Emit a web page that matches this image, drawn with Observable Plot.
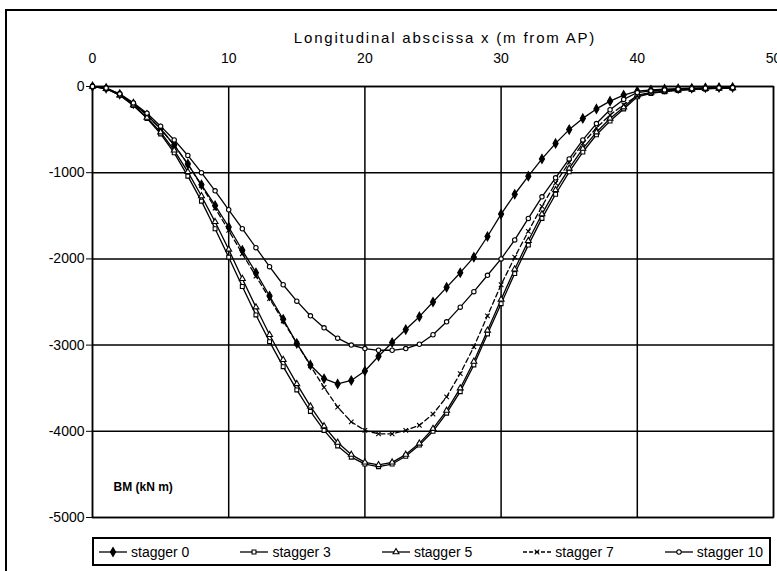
<!DOCTYPE html>
<html><head><meta charset="utf-8">
<script src="https://cdn.jsdelivr.net/npm/d3@7"></script>
<script src="https://cdn.jsdelivr.net/npm/@observablehq/plot@0.6"></script>
<style>
body{margin:0;background:#fff;font-family:"Liberation Sans",Arial,sans-serif;}
#wrap{position:relative;width:777px;height:571px;overflow:hidden;background:#fff;}
#border{position:absolute;left:5px;top:9px;width:820px;height:620px;border:2px solid #000;box-sizing:border-box;}
#chart{position:absolute;left:0;top:0;}
#legend{position:absolute;left:92px;top:537px;width:679px;height:29px;border:2px solid #000;box-sizing:border-box;display:flex;align-items:center;justify-content:space-between;padding:0 6px 0 4px;font-size:14px;color:#000;}
.item{display:flex;align-items:center;white-space:nowrap;}
.item svg{margin-right:3px;}
</style>
</head><body>
<div id="wrap"><div id="border"></div><div id="chart"></div><div id="legend"></div></div>
<script>
const X = [0,1,2,3,4,5,6,7,8,9,10,11,12,13,14,15,16,17,18,19,20,21,22,23,24,25,26,27,28,29,30,31,32,33,34,35,36,37,38,39,40,41,42,43,44,45,46,47];
const stagger0 = [0,-20,-90,-200,-330,-490,-680,-900,-1140,-1380,-1630,-1900,-2160,-2430,-2700,-2980,-3230,-3390,-3450,-3410,-3300,-3130,-2970,-2820,-2670,-2500,-2330,-2160,-1980,-1740,-1480,-1250,-1040,-840,-660,-500,-370,-260,-170,-100,-55,-40,-30,-25,-20,-15,-12,-10];
const stagger3 = [0,-25,-100,-220,-370,-550,-770,-1040,-1330,-1650,-1980,-2320,-2650,-2960,-3250,-3520,-3770,-3990,-4170,-4300,-4380,-4410,-4380,-4290,-4160,-4000,-3790,-3540,-3230,-2870,-2520,-2170,-1840,-1530,-1250,-990,-760,-560,-400,-260,-120,-80,-60,-45,-35,-28,-22,-18];
const stagger5 = [0,-25,-100,-215,-360,-530,-740,-990,-1270,-1570,-1890,-2230,-2560,-2880,-3170,-3450,-3710,-3940,-4130,-4270,-4360,-4390,-4360,-4270,-4140,-3970,-3760,-3500,-3190,-2830,-2470,-2120,-1790,-1480,-1200,-950,-720,-530,-370,-240,-100,-70,-55,-40,-32,-25,-20,-16];
const stagger7 = [0,-20,-90,-200,-330,-490,-680,-900,-1150,-1410,-1670,-1940,-2200,-2460,-2720,-2980,-3240,-3490,-3720,-3890,-3990,-4030,-4030,-3990,-3930,-3800,-3600,-3330,-3020,-2660,-2300,-1980,-1680,-1390,-1120,-880,-660,-480,-330,-210,-110,-70,-50,-40,-30,-25,-20,-15];
const stagger10 = [0,-18,-85,-190,-310,-460,-620,-800,-1000,-1210,-1430,-1650,-1870,-2090,-2300,-2490,-2660,-2800,-2920,-3000,-3040,-3060,-3060,-3040,-2990,-2880,-2730,-2560,-2380,-2190,-2000,-1780,-1530,-1280,-1060,-840,-620,-430,-270,-150,-70,-50,-40,-30,-25,-20,-15,-12];

const SERIES = ["stagger 0","stagger 3","stagger 5","stagger 7","stagger 10"];
const VALUES = [stagger0, stagger3, stagger5, stagger7, stagger10];
const SYMBOLS = ["diamond","square","triangle","times","circle"];
const FILLS = ["black","white","white","none","white"];
const DASHES = [null,null,null,"5,3",null];
const X_TICKS = [0,10,20,30,40,50];
const Y_TICKS = [0,-1000,-2000,-3000,-4000,-5000];
const X_LABEL = "Longitudinal abscissa x (m from AP)";
const Y_NOTE = "BM (kN m)";

const rows = SERIES.map((s,i)=>X.map((x,j)=>({series:s, idx:i, x, y:VALUES[i][j]})));
const rad = i => SYMBOLS[i]==="diamond" ? 2.7 : 2.2;

const marks = [
  Plot.ruleX(X_TICKS,{stroke:"black",strokeWidth:1.5}),
  Plot.ruleY(Y_TICKS,{stroke:"black",strokeWidth:1.5}),
  Plot.frame({stroke:"black",strokeWidth:1.5}),
];
rows.forEach((r,i)=>{
  marks.push(Plot.line(r,{x:"x",y:"y",stroke:"black",strokeWidth:1.3,strokeDasharray:DASHES[i]||undefined}));
});
rows.forEach((r,i)=>{
  marks.push(Plot.dot(r,{x:"x",y:"y",symbol:SYMBOLS[i],r:rad(i),fill:FILLS[i],stroke:"black",strokeWidth:1.1}));
});
marks.push(Plot.text([Y_NOTE],{text:d=>d,frameAnchor:"bottom-left",dx:21,dy:-27,textAnchor:"start",fontWeight:"bold",fontSize:12}));
marks.push(Plot.text([X_LABEL],{text:d=>d,frameAnchor:"top",dx:12,dy:-54,fontSize:15}));

const chart = Plot.plot({
  width:777,height:571,
  marginLeft:92,marginRight:4,marginTop:86,marginBottom:54,
  style:{fontFamily:"Liberation Sans, Arial, sans-serif",fontSize:"14px",color:"black",background:"transparent",overflow:"visible"},
  x:{domain:[0,50],ticks:X_TICKS,axis:"top",label:null,tickSize:0,tickPadding:24},
  y:{domain:[-5000,0],ticks:Y_TICKS,tickSize:6,tickPadding:2,tickFormat:d=>String(d),label:null},
  marks
});
d3.select(chart).selectAll("text").filter(function(){return this.textContent===X_LABEL;}).style("letter-spacing","1.8px");
document.getElementById("chart").appendChild(chart);

// legend
const leg = document.getElementById("legend");
const symMap={diamond:d3.symbolDiamond,square:d3.symbolSquare,triangle:d3.symbolTriangle,times:d3.symbolTimes,circle:d3.symbolCircle};
SERIES.forEach((s,i)=>{
  const item = document.createElement("div"); item.className="item";
  const sv = d3.create("svg").attr("width",30).attr("height",12);
  sv.append("line").attr("x1",1).attr("x2",29).attr("y1",6).attr("y2",6).attr("stroke","black").attr("stroke-width",1.3).attr("stroke-dasharray",DASHES[i]?"4,2":null);
  const rr = rad(i);
  sv.append("path").attr("transform","translate(15,6)").attr("d",d3.symbol(symMap[SYMBOLS[i]],rr*rr*Math.PI)()).attr("fill",FILLS[i]).attr("stroke","black").attr("stroke-width",1.1);
  item.appendChild(sv.node());
  const t=document.createElement("span"); t.textContent=s; item.appendChild(t);
  leg.appendChild(item);
});
</script>
</body></html>
